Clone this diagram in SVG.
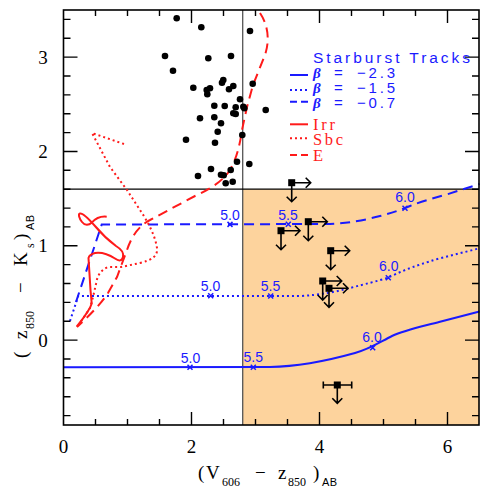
<svg xmlns="http://www.w3.org/2000/svg" width="485" height="499" viewBox="0 0 485 499">
<style>
.sans{font-family:"Liberation Sans",Arial,sans-serif}
.serif{font-family:"Liberation Serif","Times New Roman",serif}
.blue{fill:#1a1aff}
.red{fill:#ff1a1a}
.bl{fill:none;stroke:#1a1aff;stroke-width:2}
.rl{fill:none;stroke:#ff1a1a;stroke-width:2}
.dot{stroke-dasharray:2,3}
.dash{stroke-dasharray:10,6}
.ldash{stroke-dasharray:7,4}
.tick{fill:none;stroke:#000;stroke-width:1.4}
.lim{fill:none;stroke:#000;stroke-width:1.6}
.pt{fill:#000}
.mk{fill:none;stroke:#1a1aff;stroke-width:1.5}
.lab{font-family:"Liberation Sans",Arial,sans-serif;font-size:14px;fill:#1a1aff;text-anchor:middle}
.sub{font-family:"Liberation Sans",Arial,sans-serif;font-size:11px;letter-spacing:0.5px}
</style>
<defs>
<g id="ulim">
<rect x="-3.5" y="-3.5" width="7" height="7" fill="#000"/>
<path class="lim" d="M0,0H19M14,-5L19,0L14,5M0,0V19M-5,14L0,19L5,14"/>
</g>
<path id="x" class="mk" d="M-2.5,-2.5L2.5,2.5M-2.5,2.5L2.5,-2.5"/>
</defs>
<rect width="485" height="499" fill="#fff"/>
<rect id="region" x="242.7" y="189.2" width="236.3" height="235.8" fill="#fdd39d"/>
<g id="cuts">
<path d="M242.7,10V425" stroke="#555" stroke-width="1.3"/>
<path d="M63.5,189.2H479" stroke="#000" stroke-width="1.3"/>
</g>
<g id="connectors">
<path id="sb-solid" class="bl" d="M63.5,367.3L270,367C300,366.5 330,360 355,353C370,349 380,342 392,336C405,330 420,327 440,321.7L479.5,311.5"/>
<path id="sb-dotted" class="bl dot" d="M70,321L78.3,296L300,296C320,295 335,292 350,288C365,284 378,281 388,277.7C398,273 410,267 440,258.3L479.5,248.3"/>
<path id="sb-dashed" class="bl dash" d="M76,302L101.7,224.5L330,224C350,223 365,220 380,216C392,213 400,210 410,206C420,202 430,199 445,195L479.5,184"/>
<path id="irr" class="rl" d="M106.7,216.7C100,216 95,219 91.7,222.7C89,225 85,226 82,222C79,218 78,214 80,213.5C82,213 88,218 95,226C100,232 108,240 116,246C121,249 124,253 123,257C122,261 119,261.5 115,258.5C108,254 102,252 95,253C91,254 89,256 88.5,258L90.5,290L91.7,303.5C90,310 85,316 76.7,326.7"/>
<path id="sbc" class="rl dot" d="M124,144L92,133L110,167L127,190L140,210C148,222 155,235 157,248C158,256 152,260 140,263L121,267L108,267C100,270 97,277 96,284L93,297L90,308L80,323"/>
<path id="e" class="rl dash" d="M260,13C268,25 270,40 265,55L253,85L247,107L242,130C240,145 236,160 230,170C222,182 210,189 195,196L150,220C138,226 131,238 127,250L117,277L108,293C100,305 88,317 77,327"/>
</g>
<g id="redshift-marks">
<use href="#x" x="190" y="367.3"/><use href="#x" x="253.3" y="367.3"/><use href="#x" x="372.7" y="347.7"/>
<use href="#x" x="210.7" y="295.8"/><use href="#x" x="270.7" y="296"/><use href="#x" x="388.3" y="277.7"/>
<use href="#x" x="230" y="224.4"/><use href="#x" x="288.3" y="224.3"/><use href="#x" x="405" y="208.3"/>
<text class="lab" x="190.5" y="362.5">5.0</text>
<text class="lab" x="253.3" y="361.7">5.5</text>
<text class="lab" x="372" y="341.7">6.0</text>
<text class="lab" x="210.5" y="291">5.0</text>
<text class="lab" x="270.5" y="291">5.5</text>
<text class="lab" x="388.7" y="270.7">6.0</text>
<text class="lab" x="230" y="220">5.0</text>
<text class="lab" x="288" y="220">5.5</text>
<text class="lab" x="405" y="201.7">6.0</text>
</g>
<g id="galaxies">
<circle class="pt" r="3.3" cx="176.7" cy="18.3"/><circle class="pt" r="3.3" cx="201.3" cy="27.3"/><circle class="pt" r="3.3" cx="250" cy="31"/>
<circle class="pt" r="3.3" cx="165" cy="56"/><circle class="pt" r="3.3" cx="208.3" cy="58.3"/><circle class="pt" r="3.3" cx="231" cy="56"/>
<circle class="pt" r="3.3" cx="173" cy="70.7"/><circle class="pt" r="3.3" cx="223.3" cy="80"/><circle class="pt" r="3.3" cx="222" cy="82.7"/>
<circle class="pt" r="3.3" cx="233.3" cy="86"/><circle class="pt" r="3.3" cx="229" cy="89.3"/><circle class="pt" r="3.3" cx="252.7" cy="83.7"/>
<circle class="pt" r="3.3" cx="193.3" cy="87.7"/><circle class="pt" r="3.3" cx="210" cy="88.3"/><circle class="pt" r="3.3" cx="206.7" cy="90"/>
<circle class="pt" r="3.3" cx="207.3" cy="94.3"/><circle class="pt" r="3.3" cx="240" cy="99.3"/><circle class="pt" r="3.3" cx="214.3" cy="105.7"/>
<circle class="pt" r="3.3" cx="224.7" cy="106"/><circle class="pt" r="3.3" cx="235.7" cy="107.3"/><circle class="pt" r="3.3" cx="243.3" cy="106.7"/>
<circle class="pt" r="3.3" cx="244.3" cy="108.3"/><circle class="pt" r="3.3" cx="233.3" cy="113.3"/><circle class="pt" r="3.3" cx="235.7" cy="114"/>
<circle class="pt" r="3.3" cx="200" cy="118.3"/><circle class="pt" r="3.3" cx="214.3" cy="117.3"/><circle class="pt" r="3.3" cx="221" cy="123.3"/>
<circle class="pt" r="3.3" cx="217.7" cy="131.7"/><circle class="pt" r="3.3" cx="186" cy="139.7"/><circle class="pt" r="3.3" cx="242.3" cy="135"/>
<circle class="pt" r="3.3" cx="215" cy="142.7"/><circle class="pt" r="3.3" cx="237" cy="161.7"/><circle class="pt" r="3.3" cx="249.3" cy="164"/>
<circle class="pt" r="3.3" cx="211" cy="169"/><circle class="pt" r="3.3" cx="230.7" cy="170"/><circle class="pt" r="3.3" cx="198" cy="176"/>
<circle class="pt" r="3.3" cx="221" cy="174.7"/><circle class="pt" r="3.3" cx="223.7" cy="175.3"/><circle class="pt" r="3.3" cx="232.7" cy="181.7"/>
<circle class="pt" r="3.3" cx="225.7" cy="183.3"/><circle class="pt" r="3.3" cx="265.7" cy="110"/>
</g>
<g id="limits">
<use href="#ulim" x="291.7" y="182.7"/>
<use href="#ulim" x="308.3" y="221.7"/>
<use href="#ulim" x="281" y="230.7"/>
<use href="#ulim" x="330.7" y="250.7"/>
<use href="#ulim" x="322.7" y="281"/>
<use href="#ulim" x="329" y="288.3"/>
<g id="limit-err">
<rect x="333.8" y="381.5" width="7" height="7" fill="#000"/>
<path class="lim" d="M323.3,385H351.7M323.3,381.5V388.5M351.7,381.5V388.5M337.3,385V403.3M332.3,398.3L337.3,403.3L342.3,398.3"/>
</g>
</g>
<g id="axes">
<rect x="63.5" y="10" width="415.5" height="415" fill="none" stroke="#000" stroke-width="1.6"/>
<path class="tick" d="M95.5,425v-6M127.5,425v-6M159.5,425v-6M191.5,425v-13M223.5,425v-6M255.5,425v-6M287.5,425v-6M319.5,425v-13M351.5,425v-6M383.5,425v-6M415.5,425v-6M447.5,425v-13
M95.5,10v6M127.5,10v6M159.5,10v6M191.5,10v13M223.5,10v6M255.5,10v6M287.5,10v6M319.5,10v13M351.5,10v6M383.5,10v6M415.5,10v6M447.5,10v13
M63.5,415.6h7M63.5,396.7h7M63.5,377.8h7M63.5,359h7M63.5,340.1h14M63.5,321.2h7M63.5,302.4h7M63.5,283.5h7M63.5,264.6h7M63.5,245.8h14M63.5,226.9h7M63.5,208.1h7M63.5,189.2h7M63.5,170.3h7M63.5,151.5h14M63.5,132.6h7M63.5,113.7h7M63.5,94.9h7M63.5,76h7M63.5,57.1h14M63.5,38.3h7M63.5,19.4h7
M479,415.6h-7M479,396.7h-7M479,377.8h-7M479,359h-7M479,340.1h-14M479,321.2h-7M479,302.4h-7M479,283.5h-7M479,264.6h-7M479,245.8h-14M479,226.9h-7M479,208.1h-7M479,189.2h-7M479,170.3h-7M479,151.5h-14M479,132.6h-7M479,113.7h-7M479,94.9h-7M479,76h-7M479,57.1h-14M479,38.3h-7M479,19.4h-7"/>
<g class="serif" font-size="19" text-anchor="middle">
<text x="63.5" y="453">0</text><text x="191.5" y="453">2</text><text x="319.5" y="453">4</text><text x="447.5" y="453">6</text>
<text x="43" y="63.6">3</text><text x="43" y="158">2</text><text x="43" y="252.3">1</text><text x="43" y="346.6">0</text>
</g>
<g id="xtitle" class="serif" font-size="19">
<text x="198" y="479">(</text><text x="206" y="479">V</text>
<text x="222" y="486" font-size="12">606</text>
<text x="255" y="479">−</text>
<text x="278" y="479">z</text>
<text x="288" y="486" font-size="12">850</text>
<text x="313" y="479">)</text>
<text x="322" y="486" class="sub">AB</text>
</g>
<g id="ytitle" class="serif" font-size="19" transform="rotate(-90)">
<text x="-358" y="27">(</text>
<text x="-339" y="27">z</text>
<text x="-329" y="34" font-size="12">850</text>
<text x="-293" y="27">−</text>
<text x="-266" y="27">K</text>
<text x="-248" y="34" font-size="12">s</text>
<text x="-240" y="27">)</text>
<text x="-230" y="34" class="sub" letter-spacing="1.5">AB</text>
</g>
</g>
<g id="legend">
<text class="sans blue" x="313" y="63.3" font-size="15.5" textLength="157" lengthAdjust="spacing">Starburst Tracks</text>
<path class="bl" d="M290,75H308"/>
<path class="bl dot" d="M290,90H308"/>
<path class="bl ldash" d="M290,101.7H308"/>
<g class="blue" font-size="15">
<text class="serif" x="313" y="78" font-style="italic" font-weight="bold">β</text><text class="sans" x="334" y="78">=</text><text class="sans" x="357" y="78" textLength="38" lengthAdjust="spacing">−2.3</text>
<text class="serif" x="313" y="93" font-style="italic" font-weight="bold">β</text><text class="sans" x="334" y="93">=</text><text class="sans" x="357" y="93" textLength="38" lengthAdjust="spacing">−1.5</text>
<text class="serif" x="313" y="107.5" font-style="italic" font-weight="bold">β</text><text class="sans" x="334" y="107.5">=</text><text class="sans" x="357" y="107.5" textLength="38" lengthAdjust="spacing">−0.7</text>
</g>
<path class="rl" d="M290,124.3H308"/>
<path class="rl dot" d="M290,138.3H308"/>
<path class="rl ldash" d="M290,155H308"/>
<g class="serif red" font-size="16.5">
<text x="313" y="130" textLength="22" lengthAdjust="spacing">Irr</text>
<text x="313" y="145" textLength="30" lengthAdjust="spacing">Sbc</text>
<text x="313" y="160.7">E</text>
</g>
</g>
</svg>
